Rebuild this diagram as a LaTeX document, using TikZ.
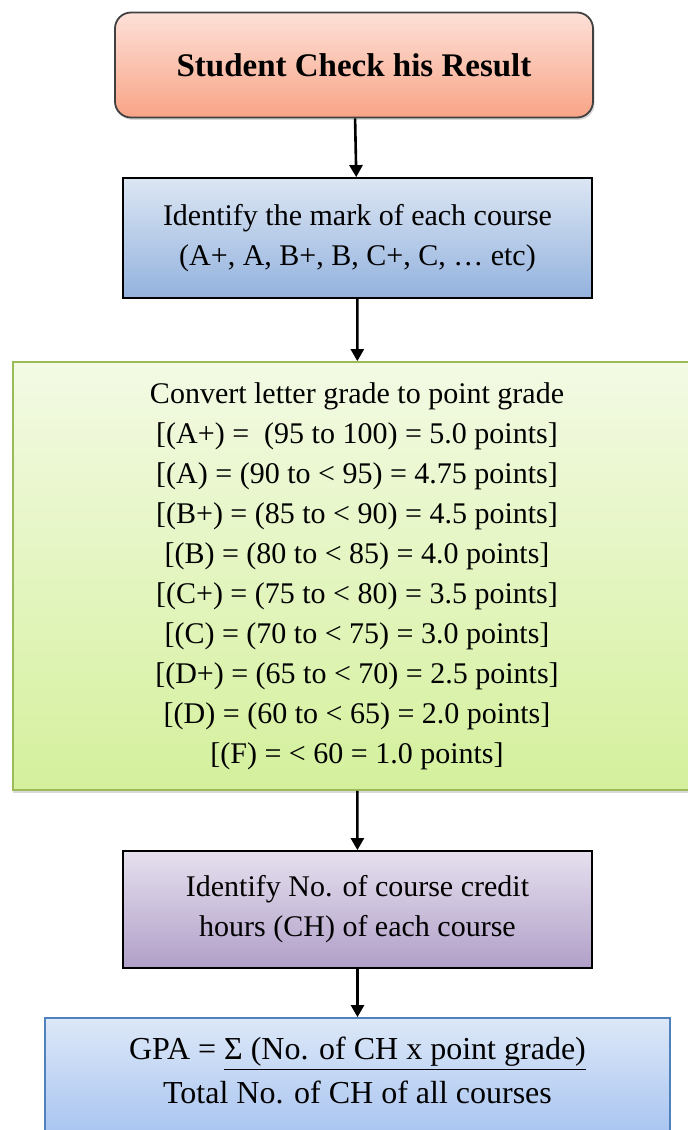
\documentclass[tikz,border=0pt]{standalone}
\usepackage{fontspec}
\setmainfont{Liberation Serif}
\usetikzlibrary{arrows.meta,positioning,shadows}

\definecolor{startTop}{HTML}{FDE0D8}
\definecolor{startBot}{HTML}{F8A486}
\definecolor{markTop}{HTML}{DCE6F3}
\definecolor{markBot}{HTML}{93B2DE}
\definecolor{convTop}{HTML}{F3FAE4}
\definecolor{convBot}{HTML}{D4F09C}
\definecolor{convLine}{HTML}{9BBB59}
\definecolor{credTop}{HTML}{E5E0EE}
\definecolor{credBot}{HTML}{B09FC8}
\definecolor{gpaTop}{HTML}{DDE8F8}
\definecolor{gpaBot}{HTML}{A6C3F0}
\definecolor{gpaLine}{HTML}{4F81BD}

\begin{document}
\begin{tikzpicture}[x=0.5pt, y=-0.5pt, >=Latex,
  box/.style={draw=black, line width=0.9pt, align=center, inner sep=0pt,
    font=\fontsize{15}{20}\selectfont},
  flow/.style={line width=1.3pt, -{Triangle[length=6pt,width=6.5pt]}}]
\clip (0,0) rectangle (688,1130);

% Boxes
\node[box, rounded corners=8pt, draw=black!75, top color=startTop, bottom color=startBot,
  drop shadow={shadow xshift=0.8pt, shadow yshift=-1.2pt, opacity=0.3},
  minimum width=239pt, minimum height=52.5pt,
  font=\fontsize{16.5}{20}\selectfont\bfseries] (start) at (354,65)
  {Student Check his Result};
\node[box, top color=markTop, bottom color=markBot,
  minimum width=234.5pt, minimum height=60pt] (mark) at (357.5,238)
  {Identify the mark of each course\\(A+, A, B+, B, C+, C, … etc)};
\node[box, draw=convLine, top color=convTop, bottom color=convBot,
  drop shadow={shadow xshift=0pt, shadow yshift=-1.5pt, opacity=0.3},
  minimum width=344pt, minimum height=214pt] (convert) at (357,576)
  {Convert letter grade to point grade\\
   {[}(A+) =\ \ (95 to 100) = 5.0 points]\\
   {[}(A) = (90 to < 95) = 4.75 points]\\
   {[}(B+) = (85 to < 90) = 4.5 points]\\
   {[}(B) = (80 to < 85) = 4.0 points]\\
   {[}(C+) = (75 to < 80) = 3.5 points]\\
   {[}(C) = (70 to < 75) = 3.0 points]\\
   {[}(D+) = (65 to < 70) = 2.5 points]\\
   {[}(D) = (60 to < 65) = 2.0 points]\\
   {[}(F) = < 60 = 1.0 points]};
\node[box, top color=credTop, bottom color=credBot,
  minimum width=234.5pt, minimum height=58.5pt] (credit) at (357.5,909.5)
  {Identify No. of course credit\\hours (CH) of each course};
\node[box, draw=gpaLine, top color=gpaTop, bottom color=gpaBot,
  minimum width=312.5pt, minimum height=61pt,
  font=\fontsize{16}{22}\selectfont] (gpa) at (357.5,1079)
  {GPA = \underline{Σ (No. of CH x point grade)}\\Total No. of CH of all courses\\[-13pt]\mbox{}};

% Arrows
\draw[flow] (start) -- (mark);
\draw[flow] (mark) -- (convert);
\draw[flow] (convert) -- (credit);
\draw[flow] (credit) -- (gpa);
\end{tikzpicture}
\end{document}
